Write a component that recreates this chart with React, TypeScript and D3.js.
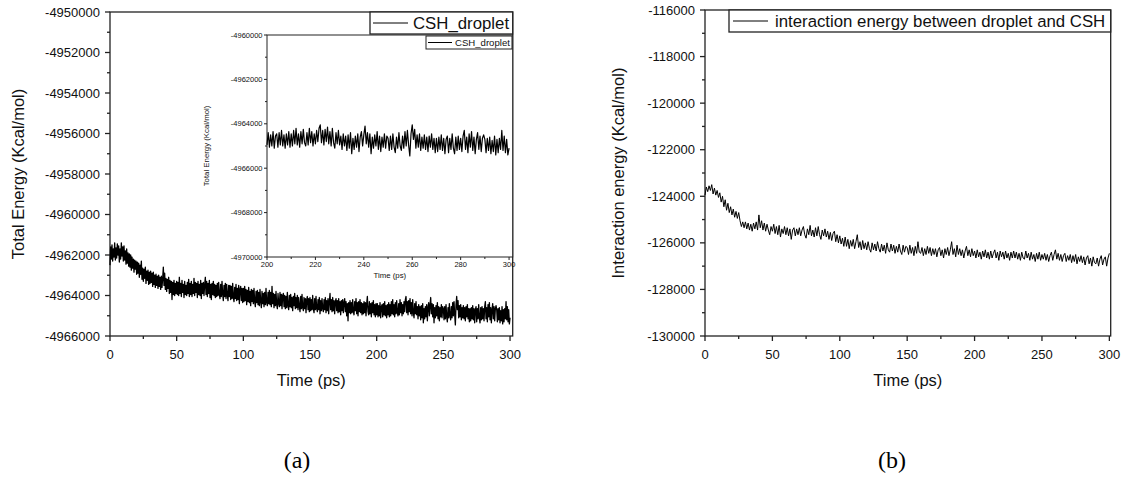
import React from 'react';
import * as d3 from 'd3';

// ---------- DATA ----------
const TIME_STEP_A = 0.5; // ps between samples of total energy
const totalEnergy = [
  -4962500, -4961600, -4962200, -4961500, -4962300, -4961700, -4962100, -4961400, -4962250, -4961650, -4962150, -4961450, -4962000, -4961550, -4962350, -4961700, -4962200, -4961400, -4962050, -4961600,
  -4962300, -4961550, -4962250, -4961800, -4962450, -4961700, -4962400, -4961900, -4962550, -4961950, -4962600, -4962000, -4962750, -4962100, -4962650, -4962200, -4962850, -4962250, -4962700, -4962300,
  -4962950, -4962350, -4962900, -4962400, -4963100, -4962500, -4962950, -4962300, -4963200, -4962650, -4963300, -4962700, -4963150, -4962600, -4963400, -4962800, -4963250, -4962750, -4963450, -4962850,
  -4963400, -4962800, -4963350, -4962900, -4963550, -4962850, -4963450, -4963000, -4963600, -4962950, -4963500, -4963050, -4963650, -4963000, -4963550, -4963100, -4963700, -4963050, -4963600, -4963150,
  -4962600, -4963500, -4962900, -4963700, -4963150, -4963800, -4963200, -4963650, -4963100, -4963900, -4963250, -4963850, -4963300, -4964200, -4963350, -4963950, -4963250, -4964000, -4963400, -4963900,
  -4963300, -4963950, -4963350, -4964000, -4963100, -4963900, -4963400, -4964050, -4963250, -4963850, -4963450, -4964100, -4963300, -4963950, -4963500, -4964000, -4963350, -4963900, -4963200, -4964050,
  -4963400, -4963950, -4963300, -4964050, -4963450, -4963900, -4963150, -4964000, -4963350, -4963850, -4963400, -4964100, -4963300, -4963950, -4963450, -4964000, -4963250, -4964150, -4963400, -4963900,
  -4963350, -4964000, -4963450, -4963100, -4963950, -4963300, -4964050, -4963400, -4963900, -4963250, -4964100, -4963450, -4964200, -4963400, -4963950, -4963300, -4964000, -4963450, -4964100, -4963500,
  -4964050, -4963400, -4964000, -4963350, -4963950, -4964150, -4963450, -4964050, -4963300, -4963950, -4964250, -4963500, -4964050, -4963400, -4964150, -4963450, -4964000, -4964250, -4963500, -4964050,
  -4963500, -4964200, -4963550, -4964150, -4963400, -4964100, -4964300, -4963600, -4964150, -4963450, -4964250, -4963650, -4964200, -4963500, -4964400, -4963700, -4963550, -4964250, -4963650, -4964350,
  -4963650, -4964300, -4963550, -4964250, -4963700, -4964450, -4963750, -4964300, -4963600, -4964350, -4963800, -4964500, -4963700, -4964300, -4963750, -4964400, -4963650, -4964300, -4964550, -4963800,
  -4964350, -4963750, -4964450, -4963850, -4964500, -4963700, -4964300, -4964600, -4963800, -4964400, -4963900, -4964550, -4963850, -4964450, -4963650, -4964350, -4964500, -4963850, -4964400, -4963750,
  -4964450, -4963850, -4964550, -4963550, -4964400, -4963900, -4964600, -4963950, -4964500, -4963800, -4964450, -4964650, -4963900, -4964400, -4964550, -4963850, -4964500, -4963950, -4964650, -4964000,
  -4963900, -4964550, -4964000, -4964650, -4964050, -4964600, -4963850, -4964500, -4964700, -4964000, -4964550, -4963950, -4964600, -4964100, -4964750, -4964050, -4964500, -4963900, -4964650, -4964100,
  -4964600, -4964000, -4964700, -4964100, -4964550, -4964800, -4964050, -4964650, -4963950, -4964600, -4964750, -4964100, -4964650, -4964150, -4964850, -4964200, -4964050, -4964700, -4964150, -4964800,
  -4964100, -4964750, -4964200, -4964700, -4964000, -4964650, -4964850, -4964150, -4964700, -4964050, -4964650, -4964800, -4964200, -4964700, -4964100, -4964900, -4964250, -4964750, -4964150, -4964650,
  -4964800, -4964200, -4964700, -4964100, -4964850, -4964250, -4964750, -4964150, -4964900, -4964300, -4963900, -4964700, -4964200, -4964800, -4964100, -4964750, -4964250, -4964900, -4964300, -4964150,
  -4964750, -4964250, -4964850, -4964150, -4964800, -4964300, -4964950, -4964250, -4964750, -4964200, -4964850, -4964350, -4964150, -4964800, -4964300, -4965000, -4964400, -4965250, -4964350, -4964850,
  -4964250, -4964900, -4964350, -4964850, -4964200, -4964800, -4964950, -4964300, -4964750, -4964150, -4964900, -4964350, -4965000, -4964300, -4964800, -4964200, -4964850, -4964350, -4964950, -4964400,
  -4964900, -4964300, -4964850, -4964350, -4965000, -4964400, -4964050, -4964800, -4964950, -4964300, -4964900, -4964400, -4965050, -4964350, -4964850, -4964250, -4964950, -4964450, -4965050, -4964400,
  -4964950, -4964400, -4965050, -4964500, -4965000, -4964350, -4965100, -4964550, -4964450, -4965050, -4964400, -4964950, -4964300, -4965000, -4964500, -4965100, -4964450, -4964950, -4964350, -4965050,
  -4964450, -4965000, -4964300, -4964900, -4964200, -4964950, -4964450, -4965050, -4964350, -4964900, -4964250, -4964850, -4965000, -4964400, -4964950, -4964200, -4964850, -4964350, -4965000, -4964450,
  -4964900, -4964300, -4964800, -4964200, -4964050, -4964850, -4964300, -4964950, -4964250, -4964800, -4964150, -4964900, -4964350, -4965000, -4964200, -4964850, -4965100, -4964400, -4964900, -4964300,
  -4964950, -4964550, -4965150, -4964450, -4965000, -4964550, -4965200, -4964500, -4965100, -4964400, -4965350, -4964650, -4965150, -4964550, -4965050, -4964450, -4965250, -4964600, -4964350, -4965000,
  -4964500, -4964100, -4964900, -4964400, -4965050, -4964450, -4965350, -4964600, -4965100, -4964500, -4965000, -4964350, -4965150, -4964550, -4965250, -4964600, -4965050, -4964450, -4965100, -4964550,
  -4964650, -4965200, -4964550, -4965150, -4964450, -4965050, -4965300, -4964600, -4965100, -4964400, -4965000, -4965200, -4964550, -4965100, -4964350, -4965000, -4964300, -4964950, -4965450, -4964450,
  -4964050, -4964700, -4964250, -4965100, -4964500, -4965050, -4964450, -4965200, -4964600, -4965100, -4964500, -4965150, -4964600, -4965250, -4964550, -4965050, -4964450, -4965150, -4964650, -4965300,
  -4964650, -4965250, -4964600, -4965150, -4964500, -4965200, -4964650, -4965350, -4964700, -4964550, -4965300, -4964650, -4965150, -4964450, -4965100, -4965350, -4964600, -4965200, -4964550, -4965150,
  -4964650, -4965250, -4964550, -4964300, -4965150, -4964600, -4965300, -4964450, -4965050, -4964350, -4965200, -4964600, -4965350, -4964700, -4964400, -4965150, -4964550, -4965250, -4964650, -4964500,
  -4964700, -4965300, -4964650, -4965200, -4964600, -4965350, -4964750, -4965250, -4964550, -4965400, -4964700, -4965300, -4964650, -4965150, -4964300, -4965200, -4964550, -4965300, -4964700, -4965400,
  -4965100,
];

const TIME_STEP_B = 1; // ps between samples of interaction energy
const interactionEnergy = [
  -123950, -123600, -123800, -123550, -123750, -123500, -123900, -123650, -123950, -123750,
  -124050, -123850, -124250, -124000, -124450, -124150, -124600, -124300, -124700, -124450,
  -124800, -124550, -124900, -124650, -124950, -124700, -125050, -125300, -125100, -125350,
  -125100, -125400, -125150, -125450, -125200, -125500, -125150, -125400, -125100, -125450,
  -124800, -125350, -125050, -125450, -125150, -125500, -125200, -125450, -125650, -125300,
  -125500, -125200, -125600, -125300, -125650, -125250, -125750, -125400, -125600, -125300,
  -125650, -125350, -125700, -125400, -125850, -125450, -125350, -125700, -125400, -125650,
  -125350, -125700, -125450, -125300, -125650, -125800, -125400, -125650, -125250, -125700,
  -125450, -125750, -125350, -125700, -125300, -125650, -125850, -125450, -125700, -125400,
  -125750, -125500, -125850, -125550, -125900, -125600, -125500, -125950, -125650, -126000,
  -125700, -126050, -125800, -126150, -125750, -126150, -125850, -126250, -125900, -126150,
  -125850, -126250, -125950, -125650, -126200, -125950, -126300, -125900, -126250, -126000,
  -126300, -125950, -126250, -126400, -126000, -126300, -126050, -126350, -125950, -126250,
  -126400, -126050, -126350, -126100, -126450, -126000, -126300, -126400, -126050, -126350,
  -126100, -126450, -126150, -126400, -126050, -126350, -126500, -126100, -126400, -126150,
  -126200, -126500, -126100, -126450, -126200, -126550, -126150, -126450, -125950, -126400,
  -126450, -126200, -126550, -126250, -126500, -126150, -126450, -126200, -126550, -126250,
  -126500, -126250, -126600, -126300, -126200, -126550, -126300, -126650, -126250, -126500,
  -126200, -126550, -126300, -125950, -126500, -126250, -126600, -126100, -126500, -126250,
  -126550, -126300, -126650, -126350, -126150, -126550, -126300, -126600, -126250, -126550,
  -126350, -126650, -126300, -126600, -126400, -126700, -126350, -126600, -126300, -126650,
  -126400, -126700, -126350, -126650, -126450, -126300, -126650, -126400, -126750, -126350,
  -126600, -126400, -126700, -126350, -126650, -126450, -126750, -126400, -126650, -126350,
  -126650, -126400, -126700, -126450, -126750, -126400, -126650, -126700, -126350, -126650,
  -126450, -126750, -126400, -126700, -126500, -126800, -126450, -126700, -126400, -126750,
  -126500, -126700, -126450, -126750, -126500, -126800, -126550, -126400, -126750, -126500,
  -126300, -126700, -126450, -126750, -126500, -126800, -126550, -126450, -126800, -126550,
  -126750, -126500, -126850, -126550, -126800, -126500, -126900, -126600, -126800, -126550,
  -126850, -126600, -126950, -126650, -126550, -126900, -126650, -127000, -126600, -126850,
  -126900, -126650, -127000, -126700, -126550, -126950, -126700, -126600, -127000, -126650,
  -126450,
];

const mainXTicks = [0, 50, 100, 150, 200, 250, 300];
const mainYTicks = [-4966000, -4964000, -4962000, -4960000, -4958000, -4956000, -4954000, -4952000, -4950000];
const insetXTicks = [200, 220, 240, 260, 280, 300];
const insetYTicks = [-4970000, -4968000, -4966000, -4964000, -4962000, -4960000];
const rightXTicks = [0, 50, 100, 150, 200, 250, 300];
const rightYTicks = [-130000, -128000, -126000, -124000, -122000, -120000, -118000, -116000];

const legendA = 'CSH_droplet';
const legendB = 'interaction energy between droplet and CSH';
const xTitle = 'Time (ps)';
const yTitleA = 'Total Energy (Kcal/mol)';
const yTitleB = 'Interaction energy (Kcal/mol)';

// ---------- helpers ----------
const SANS = '"Liberation Sans", Arial, sans-serif';
const AXIS = '#222';

const mids = (t: number[]) => t.slice(0, -1).map((v, i) => (v + t[i + 1]) / 2);

type Pt = { t: number; v: number };
const toPts = (vals: number[], step: number): Pt[] => vals.map((v, i) => ({ t: i * step, v }));

function Axes(props: {
  x: d3.ScaleLinear<number, number>;
  y: d3.ScaleLinear<number, number>;
  xTicks: number[];
  yTicks: number[];
  font: number;
  major: number;
  minor: number;
  gap: number;
  xLabelDy: number;
  sw: number;
}) {
  const { x, y, xTicks, yTicks, font, major, minor, gap, xLabelDy, sw } = props;
  const [x0, x1] = x.range();
  const [y0, y1] = y.range(); // y0 bottom, y1 top
  return (
    <g>
      <rect x={x0} y={y1} width={x1 - x0} height={y0 - y1} fill="white" stroke={AXIS} strokeWidth={sw} />
      {yTicks.map((v) => (
        <g key={'ym' + v}>
          <line x1={x0 - major} x2={x0} y1={y(v)} y2={y(v)} stroke={AXIS} strokeWidth={sw} />
          <text x={x0 - major - gap} y={y(v)} dy="0.35em" textAnchor="end" fontSize={font} fontFamily={SANS} fill="#111">
            {String(v)}
          </text>
        </g>
      ))}
      {mids(yTicks).map((v) => (
        <line key={'yn' + v} x1={x0 - minor} x2={x0} y1={y(v)} y2={y(v)} stroke={AXIS} strokeWidth={sw} />
      ))}
      {xTicks.map((v) => (
        <g key={'xm' + v}>
          <line x1={x(v)} x2={x(v)} y1={y0} y2={y0 + major} stroke={AXIS} strokeWidth={sw} />
          <text x={x(v)} y={y0 + xLabelDy} textAnchor="middle" fontSize={font} fontFamily={SANS} fill="#111">
            {v}
          </text>
        </g>
      ))}
      {mids(xTicks).map((v) => (
        <line key={'xn' + v} x1={x(v)} x2={x(v)} y1={y0} y2={y0 + minor} stroke={AXIS} strokeWidth={sw} />
      ))}
    </g>
  );
}

function Legend(props: { x0: number; x1: number; y0: number; y1: number; lx0: number; lx1: number; tx: number; font: number; label: string; sw: number }) {
  const { x0, x1, y0, y1, lx0, lx1, tx, font, label, sw } = props;
  const cy = (y0 + y1) / 2;
  return (
    <g>
      <rect x={x0} y={y0} width={x1 - x0} height={y1 - y0} fill="white" stroke={AXIS} strokeWidth={sw} />
      <line x1={lx0} x2={lx1} y1={cy} y2={cy} stroke="#000" strokeWidth={1} />
      <text x={tx} y={cy} dy="0.35em" fontSize={font} fontFamily={SANS} fill="#111">
        {label}
      </text>
    </g>
  );
}

export default function App() {
  const ptsA = toPts(totalEnergy, TIME_STEP_A);
  const ptsB = toPts(interactionEnergy, TIME_STEP_B);

  // Panel (a) main
  const xA = d3.scaleLinear().domain([0, 302]).range([110, 512.7]);
  const yA = d3.scaleLinear().domain([-4966000, -4950000]).range([336, 12]);
  // Panel (a) inset
  const xI = d3.scaleLinear().domain([200, 301.5]).range([267, 512.7]);
  const yI = d3.scaleLinear().domain([-4970000, -4960000]).range([257, 35]);
  // Panel (b)
  const xB = d3.scaleLinear().domain([0, 301]).range([705, 1110.7]);
  const yB = d3.scaleLinear().domain([-130000, -116000]).range([336, 10]);

  const lineA = d3.line<Pt>().x((d) => xA(d.t)).y((d) => yA(d.v));
  const lineI = d3.line<Pt>().x((d) => xI(d.t)).y((d) => yI(d.v));
  const lineB = d3.line<Pt>().x((d) => xB(d.t)).y((d) => yB(d.v));
  const insetPts = ptsA.filter((d) => d.t >= 200);

  const SERIF = '"Liberation Serif", "Times New Roman", serif';

  return (
    <svg width={1124} height={477} style={{ position: 'absolute', left: 0, top: 0, background: 'white' }}>
      <rect x={0} y={0} width={1124} height={477} fill="white" />

      {/* ---- Panel (a) ---- */}
      <Axes x={xA} y={yA} xTicks={mainXTicks} yTicks={mainYTicks} font={13} major={5} minor={3} gap={5} xLabelDy={23} sw={1.3} />
      <path d={lineA(ptsA) || ''} fill="none" stroke="#000" strokeWidth={1.3} strokeLinejoin="round" />
      <text x={(110 + 512.7) / 2} y={386} textAnchor="middle" fontSize={16.5} fontFamily={SANS} fill="#111">{xTitle}</text>
      <text transform={`translate(24,174) rotate(-90)`} textAnchor="middle" fontSize={16.5} fontFamily={SANS} fill="#111">{yTitleA}</text>

      {/* inset */}
      <Axes x={xI} y={yI} xTicks={insetXTicks} yTicks={insetYTicks} font={7.5} major={3} minor={2} gap={1.5} xLabelDy={9.5} sw={1} />
      <path d={lineI(insetPts) || ''} fill="none" stroke="#000" strokeWidth={1.2} strokeLinejoin="round" />
      <text x={(267 + 512.7) / 2} y={278} textAnchor="middle" fontSize={7.8} fontFamily={SANS} fill="#111">{xTitle}</text>
      <text transform={`translate(209,146) rotate(-90)`} textAnchor="middle" fontSize={7.8} fontFamily={SANS} fill="#111">{yTitleA}</text>
      <Legend x0={426} x1={512} y0={36} y1={49} lx0={428} lx1={452} tx={455} font={9.6} label={legendA} sw={1} />

      {/* main legend */}
      <Legend x0={370} x1={512.7} y0={12} y1={34} lx0={373} lx1={408} tx={413} font={16.8} label={legendA} sw={1.3} />

      {/* ---- Panel (b) ---- */}
      <Axes x={xB} y={yB} xTicks={rightXTicks} yTicks={rightYTicks} font={13} major={5} minor={3} gap={5} xLabelDy={23} sw={1.3} />
      <path d={lineB(ptsB) || ''} fill="none" stroke="#000" strokeWidth={1} strokeLinejoin="round" />
      <text x={(705 + 1110.7) / 2} y={386} textAnchor="middle" fontSize={16.5} fontFamily={SANS} fill="#111">{xTitle}</text>
      <text transform={`translate(624,173) rotate(-90)`} textAnchor="middle" fontSize={16.5} fontFamily={SANS} fill="#111">{yTitleB}</text>
      <Legend x0={729} x1={1110.7} y0={10} y1={32} lx0={733} lx1={768} tx={775} font={16.8} label={legendB} sw={1.3} />

      {/* captions */}
      <text x={297} y={468} textAnchor="middle" fontSize={24} fontFamily={SERIF} fill="#000">(a)</text>
      <text x={892} y={468} textAnchor="middle" fontSize={24} fontFamily={SERIF} fill="#000">(b)</text>
    </svg>
  );
}
